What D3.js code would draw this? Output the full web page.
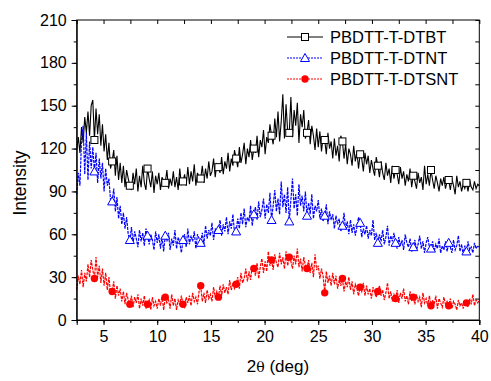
<!DOCTYPE html>
<html>
<head>
<meta charset="utf-8">
<script src="https://cdn.jsdelivr.net/npm/d3@7"></script>
<style>
  body { margin: 0; background: #fff; }
  svg { display: block; font-family: "Liberation Sans", Arial, sans-serif; }
</style>
</head>
<body>
<div id="chart"></div>
<script>
// scan grid: 2.5 .. 40 deg, 0.15 deg per point
const xStart = 2.5;
const xStep = 0.15;
const markerEvery = 11;

const xTicks = [5, 10, 15, 20, 25, 30, 35, 40];
const yTicks = [0, 30, 60, 90, 120, 150, 180, 210];

const dtbt = [
  119,128,117,135,124,142,131,146,129,150,
  154,126,148,130,144,122,137,118,130,112,
  124,106,111,119,101,115,98,110,96,108,
  93,105,99,94,91,103,95,106,90,101,
  93,108,96,91,106,99,93,104,89,101,
  95,103,91,100,97,96,105,92,99,94,
  104,93,100,91,106,95,97,102,94,107,
  95,104,97,109,94,103,100,99,108,96,
  106,99,111,101,104,113,100,109,107,103,
  114,102,111,106,117,104,113,108,119,113,
  107,121,110,116,124,109,120,114,126,112,
  120,117,129,114,126,121,133,116,128,124,
  137,129,123,141,128,146,125,139,158,127,
  151,132,131,156,128,147,136,152,124,144,
  135,147,127,131,140,123,136,129,119,134,
  121,132,118,128,126,116,131,120,125,113,
  127,115,122,111,129,125,113,123,109,120,
  116,108,122,111,118,106,116,113,104,117,
  109,115,103,112,106,101,114,108,100,111,
  103,98,110,101,106,96,108,99,105,102,
  95,107,99,104,94,102,97,106,93,101,
  97,92,103,96,100,91,108,95,102,94,
  105,98,92,101,96,90,99,94,100,92,
  97,98,91,99,94,88,101,93,97,90,
  95,92,96,90,98,93,91,97,92,95,
  94
];

const dtnt = [
  88,103,94,126,136,102,131,98,125,106,
  121,104,117,96,113,99,110,90,106,94,
  99,84,83,92,76,86,71,80,67,75,
  64,72,60,56,65,54,62,57,51,63,
  55,61,52,64,59,53,60,56,49,62,
  54,60,50,58,48,59,55,61,49,57,
  52,63,50,58,54,47,56,60,51,64,
  53,59,55,62,50,60,57,54,61,53,
  66,57,63,59,68,56,64,61,63,70,
  59,67,62,72,60,69,64,74,61,62,
  71,64,75,67,78,65,72,69,80,66,
  74,79,70,83,72,77,85,71,81,75,
  89,70,80,91,76,85,74,97,79,88,
  75,93,69,84,99,78,88,73,95,80,
  87,76,90,73,82,74,88,71,80,76,
  84,71,78,69,73,81,67,76,70,74,
  64,73,67,71,62,66,75,63,69,60,
  70,61,67,59,65,72,68,58,64,60,
  66,57,63,59,70,56,61,54,60,55,
  63,53,58,66,52,59,55,61,54,50,
  58,52,56,49,60,54,51,57,48,51,
  56,49,53,59,50,55,47,54,58,51,
  50,55,48,53,50,57,47,52,49,55,
  48,54,51,47,56,49,52,59,48,53,
  46,52,48,55,49,51,47,54,50,52,
  51
];

const dtsnt = [
  21,31,25,35,23,33,27,39,30,42,
  35,29,44,30,38,26,36,24,33,21,
  30,19,20,27,15,24,17,22,13,20,
  11,19,14,11,17,9,16,12,18,8,
  15,10,17,8,11,14,7,16,10,13,
  8,15,10,17,7,16,12,14,8,18,
  10,15,7,14,11,17,11,9,16,12,
  17,10,19,13,16,11,20,24,13,19,
  12,21,15,18,13,23,16,20,16,24,
  17,25,19,23,18,28,21,26,22,25,
  30,22,33,26,29,36,27,34,28,38,
  36,31,40,29,37,43,33,41,34,48,
  38,42,35,46,40,37,47,39,44,36,
  48,38,44,41,36,45,39,50,37,43,
  34,44,38,36,42,33,40,30,46,35,
  38,29,36,31,19,34,26,31,24,33,
  25,31,22,28,24,29,20,27,23,30,
  21,27,18,25,22,17,23,20,26,17,
  24,18,22,15,23,19,16,20,24,17,
  21,14,19,26,15,20,13,18,15,21,
  12,19,15,22,13,17,11,20,14,16,
  11,18,13,16,9,19,12,15,10,17,
  10,14,11,17,8,15,12,9,16,11,
  13,10,15,8,13,11,7,14,10,12,
  8,13,12,9,15,11,18,10,14,12,
  14
];

const seriesNames = ["PBDTT-T-DTBT", "PBDTT-T-DTNT", "PBDTT-T-DTSNT"];
const seriesColors = ["#000000", "#0000ff", "#ff0000"];

const width = 491, height = 381;
const mLeft = 76.7, mRight = 479.3, mTop = 20, mBottom = 320;
const fontFam = "Liberation Sans, Arial, sans-serif";

const x = d3.scaleLinear().domain([2.5, 40]).range([mLeft, mRight]);
const y = d3.scaleLinear().domain([0, 210]).range([mBottom, mTop]);

const svg = d3.select("#chart").append("svg")
  .attr("width", width)
  .attr("height", height);

const toPoints = vals => vals.map((v, i) => ({ x: xStart + i * xStep, y: v, i: i }));
const series = [dtbt, dtnt, dtsnt].map((vals, k) => ({
  name: seriesNames[k],
  color: seriesColors[k],
  points: toPoints(vals)
}));

const line = d3.line().x(d => x(d.x)).y(d => y(d.y));

// curves
svg.append("g").selectAll("path")
  .data(series)
  .join("path")
  .attr("d", d => line(d.points))
  .attr("fill", "none")
  .attr("stroke", d => d.color)
  .attr("stroke-width", (d, k) => k === 0 ? 1.1 : 1.2)
  .attr("stroke-dasharray", (d, k) => k === 0 ? null : "3,1");

// symbols
function drawSymbol(g, k, cx, cy) {
  if (k === 0) {
    g.append("rect")
      .attr("x", cx - 3.5).attr("y", cy - 3.5)
      .attr("width", 7).attr("height", 7)
      .attr("fill", "#fff").attr("stroke", "#000").attr("stroke-width", 1);
  } else if (k === 1) {
    g.append("path")
      .attr("d", `M${cx},${cy - 4.5}L${cx + 4.5},${cy + 3.5}L${cx - 4.5},${cy + 3.5}Z`)
      .attr("fill", "#fff").attr("stroke", "#0000ff").attr("stroke-width", 1);
  } else {
    g.append("circle")
      .attr("cx", cx).attr("cy", cy).attr("r", 3.7)
      .attr("fill", "#ff0000");
  }
}

const markG = svg.append("g");
series.forEach((s, k) => {
  s.points.filter(p => p.i > 0 && p.i % markerEvery === 0).forEach(p => {
    drawSymbol(markG, k, x(p.x), y(p.y));
  });
});

// axes
const xMinor = d3.range(2.5, 40.01, 2.5);
const yMinor = d3.range(0, 210.01, 15);

svg.append("g")
  .attr("transform", `translate(0,${mBottom})`)
  .call(d3.axisBottom(x).tickValues(xMinor).tickSize(3).tickFormat(""))
  .call(g => g.select(".domain").remove());
svg.append("g")
  .attr("transform", `translate(0,${mBottom})`)
  .call(d3.axisBottom(x).tickValues(xTicks).tickSize(5).tickPadding(6).tickFormat(d3.format("d")))
  .call(g => g.selectAll("text").attr("font-size", 16).attr("fill", "#000").style("font-family", fontFam));

svg.append("g")
  .attr("transform", `translate(${mLeft},0)`)
  .call(d3.axisLeft(y).tickValues(yMinor).tickSize(3).tickFormat(""))
  .call(g => g.select(".domain").remove());
svg.append("g")
  .attr("transform", `translate(${mLeft},0)`)
  .call(d3.axisLeft(y).tickValues(yTicks).tickSize(5).tickPadding(5).tickFormat(d3.format("d")))
  .call(g => g.selectAll("text").attr("font-size", 16).attr("fill", "#000").style("font-family", fontFam));

// top and right (inward ticks)
svg.append("g")
  .attr("transform", `translate(0,${mTop})`)
  .call(d3.axisBottom(x).tickValues(xMinor).tickSize(4).tickFormat(""))
  .call(g => g.select(".domain").remove());
svg.append("g")
  .attr("transform", `translate(${mRight},0)`)
  .call(d3.axisRight(y).tickValues(yMinor).tickSize(-4).tickFormat(""))
  .call(g => g.select(".domain").remove());

svg.append("rect")
  .attr("x", mLeft).attr("y", mTop)
  .attr("width", mRight - mLeft).attr("height", mBottom - mTop)
  .attr("fill", "none").attr("stroke", "#000").attr("stroke-width", 1);

// titles
const xTitle = svg.append("text")
  .attr("x", (mLeft + mRight) / 2).attr("y", 372)
  .attr("text-anchor", "middle")
  .attr("font-size", 17);
xTitle.append("tspan").text("2");
xTitle.append("tspan").style("font-family", "DejaVu Serif, serif").attr("font-size", 14).text("θ");
xTitle.append("tspan").text(" (deg)");

svg.append("text")
  .attr("transform", `translate(26,183) rotate(-90)`)
  .attr("text-anchor", "middle")
  .attr("font-size", 17.5)
  .text("Intensity");

// legend
const legend = svg.append("g");
series.forEach((s, k) => {
  const ly = 37 + k * 21;
  legend.append("line")
    .attr("x1", 287).attr("x2", 323).attr("y1", ly).attr("y2", ly)
    .attr("stroke", s.color).attr("stroke-width", 1)
    .attr("stroke-dasharray", k === 0 ? null : "2,1");
  drawSymbol(legend, k, 305, ly);
  legend.append("text")
    .attr("x", 330).attr("y", ly + 6)
    .attr("font-size", 16.5)
    .text(s.name);
});
</script>
</body>
</html>
